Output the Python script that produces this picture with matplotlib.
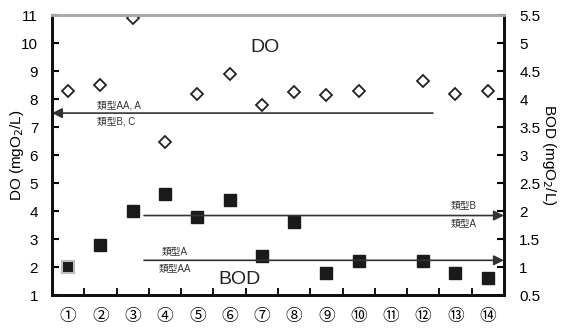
import numpy as np
import matplotlib
matplotlib.use("Agg")
import matplotlib.pyplot as plt

plt.rcParams['font.family'] = ['Liberation Sans', 'Noto Sans CJK JP', 'DejaVu Sans']

SITES = ["①", "②", "③", "④", "⑤", "⑥", "⑦", "⑧", "⑨", "⑩", "⑪", "⑫", "⑬", "⑭"]
DO = [8.3, 8.5, 10.9, 6.45, 8.2, 8.9, 7.8, 8.25, 8.15, 8.3, np.nan, 8.65, 8.2, 8.3]
BOD = [1.0, 1.4, 2.0, 2.3, 1.9, 2.2, 1.2, 1.8, 0.9, 1.1, np.nan, 1.1, 0.9, 0.8]

DO_STD = 7.5      # 類型AA, A / 類型B, C
BOD_STD_B = 1.92  # 類型B / 類型A
BOD_STD_A = 1.12  # 類型A / 類型AA

x = np.arange(1, len(SITES) + 1)

fig = plt.figure(figsize=(5.63, 3.29), dpi=100)
ax = fig.add_axes([0.0924, 0.1033, 0.8026, 0.8507])
ax2 = ax.twinx()

ax.set_xlim(0.5, 14.5)
ax.set_ylim(1, 11)
ax2.set_ylim(0.5, 5.5)

ax.plot(x, DO, linestyle="None", marker="D", ms=6.5, mfc="white", mec="#222222", mew=1.3)
ax2.plot(x[:1], BOD[:1], linestyle="None", marker="s", ms=8.5, mfc="#1a1a1a", mec="#bbbbbb", mew=1.5)
ax2.plot(x[1:], BOD[1:], linestyle="None", marker="s", ms=8.5, mfc="#1a1a1a", mec="#1a1a1a", mew=1)

# standard arrows
arrow = dict(arrowstyle="-|>", color="#333333", lw=1.2, mutation_scale=15, shrinkA=0, shrinkB=0)
ax.annotate("", xy=(0.5, DO_STD), xytext=(12.3, DO_STD), arrowprops=arrow)
ax2.annotate("", xy=(14.5, BOD_STD_B), xytext=(3.35, BOD_STD_B), arrowprops=arrow)
ax2.annotate("", xy=(14.5, BOD_STD_A), xytext=(3.35, BOD_STD_A), arrowprops=arrow)

fs = 7
ax.text(1.9, 7.78, "類型AA, A", fontsize=fs, color="#333333", va="center")
ax.text(1.9, 7.2, "類型B, C", fontsize=fs, color="#333333", va="center")
ax2.text(13.25, 2.08, "類型B", fontsize=fs, color="#333333", va="center", ha="center")
ax2.text(13.25, 1.76, "類型A", fontsize=fs, color="#333333", va="center", ha="center")
ax2.text(4.3, 1.27, "類型A", fontsize=fs, color="#333333", va="center", ha="center")
ax2.text(4.3, 0.97, "類型AA", fontsize=fs, color="#333333", va="center", ha="center")

ax.text(7.1, 9.86, "DO", fontsize=14, color="#222222", ha="center", va="center")
ax2.text(6.3, 0.77, "BOD", fontsize=14, color="#222222", ha="center", va="center")

# axes styling
ax.set_xticks(x)
ax.set_xticklabels(SITES, fontsize=12)
ax.set_xticks(np.arange(1.5, 14, 1), minor=True)
ax.tick_params(axis="x", which="major", length=0, pad=10)
ax.tick_params(axis="x", which="minor", direction="in", length=5, width=1.3)
ax.set_yticks(np.arange(1, 12, 1))
ax.tick_params(axis="y", direction="in", length=5, width=1.5, labelsize=11, pad=10)
ax2.set_yticks(np.arange(0.5, 5.6, 0.5))
ax2.set_yticklabels(["0.5", "1", "1.5", "2", "2.5", "3", "3.5", "4", "4.5", "5", "5.5"])
ax2.tick_params(axis="y", direction="in", length=5, width=1.5, labelsize=11, pad=11)

for a in (ax, ax2):
    for s in ("left", "right", "bottom"):
        a.spines[s].set_linewidth(2)
        a.spines[s].set_color("#111111")
    a.spines["top"].set_color("#aaaaaa")
    a.spines["top"].set_linewidth(2)

ax.set_ylabel("DO (mgO$_2$/L)", fontsize=11, va="center")
ax.yaxis.set_label_coords(-0.078, 0.5)
ax2.set_ylabel("BOD (mgO$_2$/L)", fontsize=11, rotation=-90, va="center")
ax2.yaxis.set_label_coords(1.1, 0.5)

fig.savefig("out.png", dpi=100)
